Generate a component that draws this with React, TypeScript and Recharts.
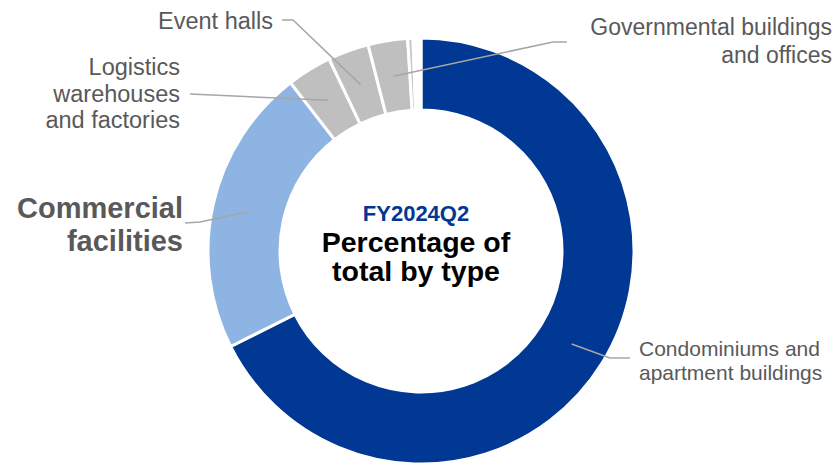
import { PieChart, Pie, Cell } from "recharts";

// share of total by building type, FY2024Q2 (%)
const categories = [
  "Condominiums and apartment buildings",
  "Commercial facilities",
  "Logistics warehouses and factories",
  "Event halls",
  "Governmental buildings and offices",
  "Other",
  "Other (minor)",
];
const shares = [67.6, 21.9, 3.4, 3.1, 3.0, 0.4, 0.6];
const labelLines = [
  ["Condominiums and", "apartment buildings"],
  ["Commercial", "facilities"],
  ["Logistics", "warehouses", "and factories"],
  ["Event halls"],
  ["Governmental buildings", "and offices"],
  [],
  [],
];
const centerTitle = "FY2024Q2";
const centerLines = ["Percentage of", "total by type"];

const sliceColors = ["#003893", "#8eb4e3", "#bfbfbf", "#bfbfbf", "#bfbfbf", "#c8c8c8", "#ffffff"];

const FONT = "'Liberation Sans', Arial, sans-serif";
const TEXT_GRAY = "#595959";
const LINE_GRAY = "#a6a6a6";
const RAD = Math.PI / 180;

const CX = 421;
const CY = 251;

// leader line bends/ends and text anchors, one per labelled slice
const LABEL_LAYOUT: {
  path: number[][];
  tx: number;
  ty: number[];
  anchor: "start" | "end";
  size: number;
  bold?: boolean;
}[] = [
  { path: [[610, 358], [630, 358]], tx: 639, ty: [356, 380], anchor: "start", size: 21 },
  { path: [[200, 222], [185, 223]], tx: 183, ty: [218, 251], anchor: "end", size: 29, bold: true },
  { path: [[190, 94]], tx: 180, ty: [75, 102, 128], anchor: "end", size: 23.5 },
  { path: [[293, 20], [282, 20]], tx: 273, ty: [29], anchor: "end", size: 23.5 },
  { path: [[553, 42], [567, 42]], tx: 832, ty: [35, 63], anchor: "end", size: 23 },
];

const data = categories.map((name, i) => ({ name, value: shares[i] }));

function renderLabel(props: any) {
  const { cx, cy, midAngle, innerRadius, outerRadius, index } = props;
  const lay = LABEL_LAYOUT[index];
  if (!lay) return null;
  const r = (innerRadius + outerRadius) / 2;
  const sx = cx + r * Math.cos(-midAngle * RAD);
  const sy = cy + r * Math.sin(-midAngle * RAD);
  const pts = [[sx, sy], ...lay.path].map((p) => p.join(",")).join(" ");
  return (
    <g key={`lbl-${index}`}>
      <polyline points={pts} fill="none" stroke={LINE_GRAY} strokeWidth={1.5} />
      <text
        textAnchor={lay.anchor}
        fill={TEXT_GRAY}
        fontFamily={FONT}
        fontSize={lay.size}
        fontWeight={lay.bold ? 700 : 400}
      >
        {labelLines[index].map((line, k) => (
          <tspan key={k} x={lay.tx} y={lay.ty[k]}>
            {line}
          </tspan>
        ))}
      </text>
    </g>
  );
}

export default function App() {
  return (
    <div style={{ width: 835, height: 465, background: "#fff" }}>
      <style>{"body{margin:0}"}</style>
      <PieChart width={835} height={465} margin={{ top: 0, right: 0, bottom: 0, left: 0 }}>
        <Pie
          data={data}
          dataKey="value"
          nameKey="name"
          cx={CX}
          cy={CY}
          innerRadius={141}
          outerRadius={213}
          startAngle={90}
          endAngle={-270}
          stroke="#ffffff"
          strokeWidth={3}
          label={renderLabel}
          labelLine={false}
          isAnimationActive={false}
        >
          {data.map((d, i) => (
            <Cell key={d.name} fill={sliceColors[i]} />
          ))}
        </Pie>
        <text textAnchor="middle" fontFamily={FONT} fontWeight={700}>
          <tspan x={CX - 5} y={221} fontSize={22} fill="#003893">
            {centerTitle}
          </tspan>
          <tspan x={CX - 5} y={252} fontSize={28.5} fill="#000000">
            {centerLines[0]}
          </tspan>
          <tspan x={CX - 5} y={281} fontSize={28.5} fill="#000000">
            {centerLines[1]}
          </tspan>
        </text>
      </PieChart>
    </div>
  );
}
